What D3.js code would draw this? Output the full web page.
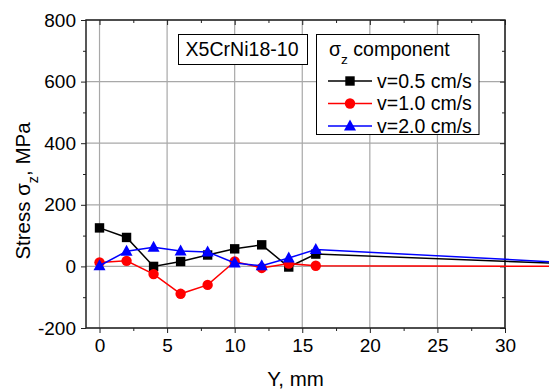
<!DOCTYPE html>
<html><head><meta charset="utf-8">
<script src="https://cdn.jsdelivr.net/npm/d3@7"></script>
<style>body{margin:0;background:#fff}svg{display:block}text{font-family:"Liberation Sans",Arial,sans-serif;fill:#000}</style>
</head><body><svg id="c" width="549" height="390"></svg>
<script>
const xValues = [0, 2, 4, 6, 8, 10, 12, 14, 16, 40];
const seriesNames = ["v=0.5 cm/s", "v=1.0 cm/s", "v=2.0 cm/s"];
const v05 = [125, 94, 0, 16, 37, 57, 70, -2, 40, 0];
const v10 = [13, 18, -25, -89, -60, 16, -5, 9, 2, 0];
const v20 = [2, 49, 62, 50, 47, 11, 2, 27, 55, 0];
const colors = ["#000000", "#ff0000", "#0000ff"];
const markers = ["square", "circle", "triangle"];
const xTicks = [0, 5, 10, 15, 20, 25, 30];
const yTicks = [-200, 0, 200, 400, 600, 800];
const xMinorVals = [2.5, 7.5, 12.5, 17.5, 22.5, 27.5];
const yMinorVals = [-100, 100, 300, 500, 700];
const xTitle = "Y, mm";
const sampleLabel = "X5CrNi18-10";

const svg = d3.select("#c");
const L = 86, R = 505, T = 20, B = 328;
const x = d3.scaleLinear().domain([-1, 30]).range([L, R]);
const y = d3.scaleLinear().domain([-200, 800]).range([B, T]);
const tickFs = 19, legFs = 19.5, titleFs = 20.5;
const fmt = d => String(d);

// grid
const g = svg.append("g");
g.selectAll(".gx").data(xTicks).enter().append("line")
  .attr("x1", d => x(d)).attr("x2", d => x(d)).attr("y1", T).attr("y2", B)
  .attr("stroke", "#a8a8a8").attr("stroke-width", 1.2);
g.selectAll(".gy").data(yTicks).enter().append("line")
  .attr("x1", L).attr("x2", R).attr("y1", d => y(d)).attr("y2", d => y(d))
  .attr("stroke", "#a8a8a8").attr("stroke-width", 1.2);

// axes
svg.append("g").attr("transform", `translate(0,${B})`)
  .call(d3.axisBottom(x).tickValues(xTicks).tickSize(5).tickPadding(6).tickFormat(fmt));
svg.append("g").attr("transform", `translate(0,${B})`).call(d3.axisBottom(x).tickValues(xMinorVals).tickSize(3).tickFormat(""));
svg.append("g").attr("transform", `translate(${L},0)`).call(d3.axisLeft(y).tickValues(yTicks).tickSize(5).tickPadding(5).tickFormat(fmt));
svg.append("g").attr("transform", `translate(${L},0)`).call(d3.axisLeft(y).tickValues(yMinorVals).tickSize(3).tickFormat(""));
svg.append("g").attr("transform", `translate(0,${T})`).call(d3.axisBottom(x).tickValues(xTicks).tickSize(5).tickFormat(""));
svg.append("g").attr("transform", `translate(0,${T})`).call(d3.axisBottom(x).tickValues(xMinorVals).tickSize(3).tickFormat(""));
svg.append("g").attr("transform", `translate(${R},0)`).call(d3.axisLeft(y).tickValues(yTicks).tickSize(5).tickFormat(""));
svg.append("g").attr("transform", `translate(${R},0)`).call(d3.axisLeft(y).tickValues(yMinorVals).tickSize(3).tickFormat(""));
svg.selectAll(".domain").attr("stroke", "none");
svg.selectAll(".tick line").attr("stroke", "#222");
svg.selectAll(".tick text").attr("font-size", tickFs).attr("font-family", "Liberation Sans, Arial, sans-serif").attr("fill", "#000");
svg.append("rect").attr("x", L).attr("y", T).attr("width", R - L).attr("height", B - T)
  .attr("fill", "none").attr("stroke", "#222").attr("stroke-width", 1.5);

// titles
svg.append("text").attr("x", (L + R) / 2).attr("y", 386).attr("text-anchor", "middle").attr("font-size", titleFs).text(xTitle);
const yt = svg.append("text").attr("transform", `translate(30,191) rotate(-90)`).attr("text-anchor", "middle").attr("font-size", titleFs);
yt.append("tspan").text("Stress ");
yt.append("tspan").text("σ");
yt.append("tspan").attr("font-size", titleFs * 0.7).attr("baseline-shift", "sub").text("z");
yt.append("tspan").text(", MPa");

// data
const series = [v05, v10, v20];
const line = d3.line().x((d, i) => x(xValues[i])).y(d => y(d));
function drawMarker(sel, type, color, cx, cy) {
  if (type === "square") sel.append("rect").attr("x", cx - 4.7).attr("y", cy - 4.7).attr("width", 9.4).attr("height", 9.4).attr("fill", color);
  else if (type === "circle") sel.append("circle").attr("cx", cx).attr("cy", cy).attr("r", 5.2).attr("fill", color);
  else sel.append("path").attr("d", `M${cx},${cy - 6.5}L${cx + 6},${cy + 4.5}L${cx - 6},${cy + 4.5}Z`).attr("fill", color);
}
series.forEach((s, k) => {
  svg.append("path").datum(s).attr("d", line).attr("fill", "none").attr("stroke", colors[k]).attr("stroke-width", 1.5);
  const mg = svg.append("g");
  s.forEach((v, i) => drawMarker(mg, markers[k], colors[k], x(xValues[i]), y(v)));
});

// sample label
svg.append("rect").attr("x", 178.5).attr("y", 34.5).attr("width", 129).attr("height", 30).attr("fill", "#fff").attr("stroke", "#000");
svg.append("text").attr("x", 185.5).attr("y", 56).attr("font-size", legFs).attr("textLength", 113).text(sampleLabel);

// legend
const lg = svg.append("g");
lg.append("rect").attr("x", 316.5).attr("y", 34.5).attr("width", 162.5).attr("height", 100).attr("fill", "#fff").attr("stroke", "#000");
const lt = lg.append("text").attr("x", 329).attr("y", 56).attr("font-size", legFs);
lt.append("tspan").text("σ");
lt.append("tspan").attr("font-size", legFs * 0.7).attr("baseline-shift", "sub").text("z");
lt.append("tspan").text(" component");
seriesNames.forEach((n, k) => {
  const ly = 81 + k * 22.5;
  lg.append("line").attr("x1", 328).attr("x2", 372).attr("y1", ly).attr("y2", ly).attr("stroke", colors[k]).attr("stroke-width", 1.5);
  drawMarker(lg, markers[k], colors[k], 350, ly);
  lg.append("text").attr("x", 377).attr("y", ly + 6.5).attr("font-size", legFs).text(n);
});
</script></body></html>
